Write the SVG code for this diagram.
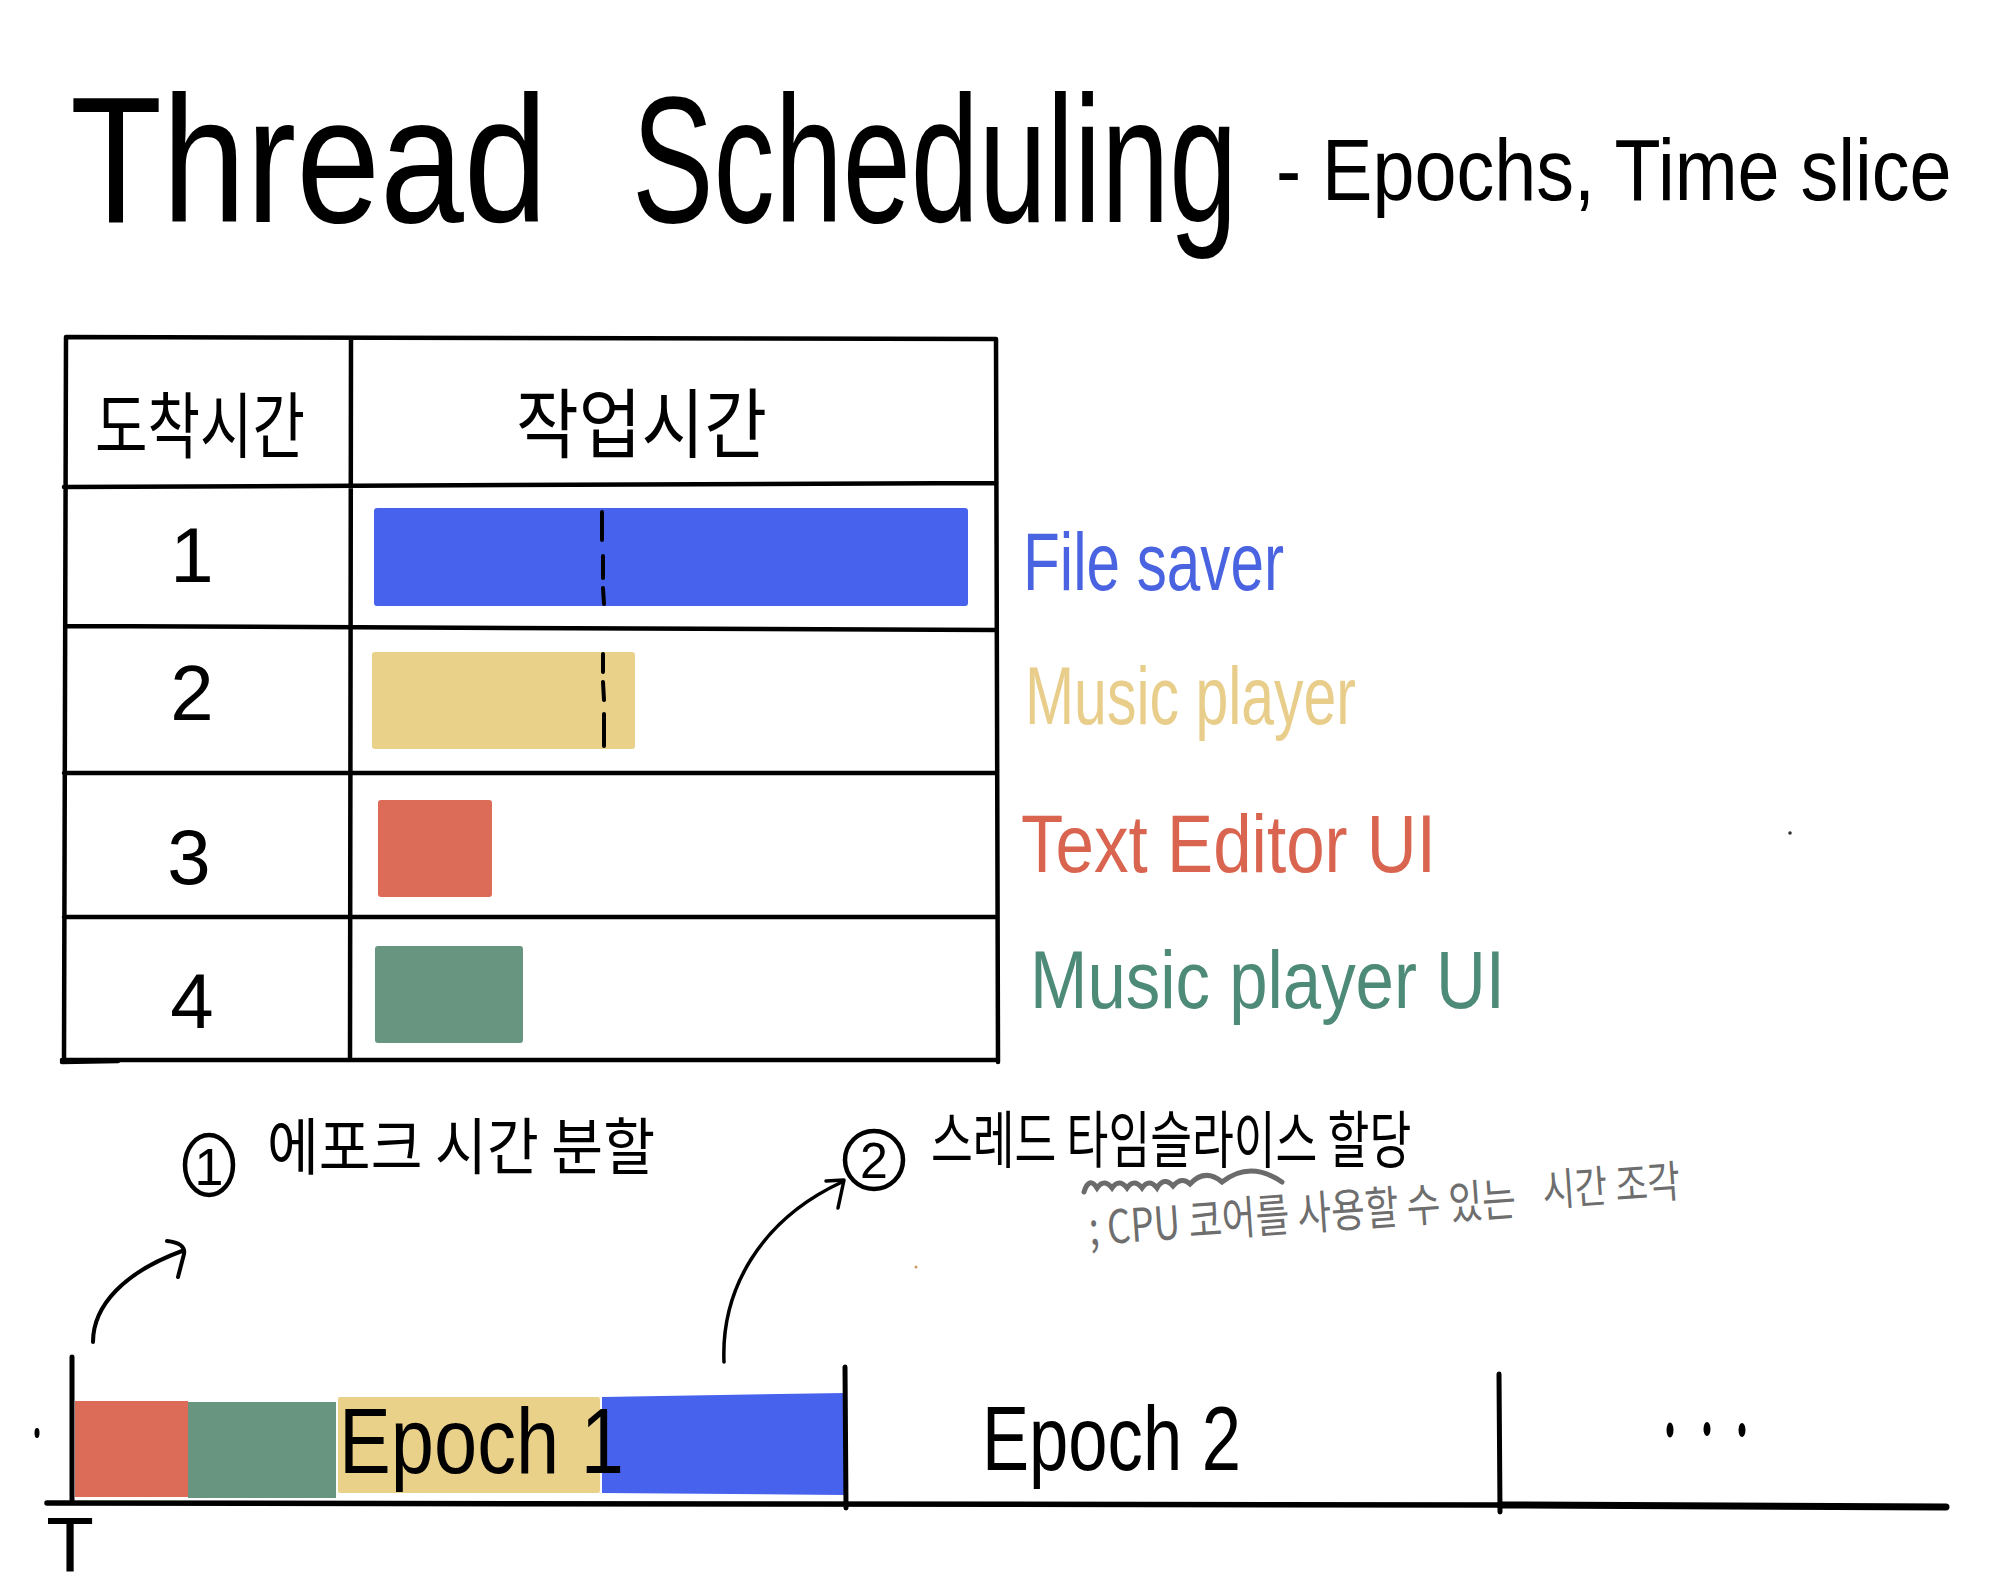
<svg xmlns="http://www.w3.org/2000/svg" width="2000" height="1586" viewBox="0 0 2000 1586">
<style>
.ink{fill:none;stroke:#000;stroke-linecap:round;stroke-linejoin:round}
.grid{fill:none;stroke:#000;stroke-width:4.5;stroke-linecap:round}
.en{font-family:"Liberation Sans","DejaVu Sans",sans-serif}
.ko{font-family:"Noto Sans CJK KR","Liberation Sans",sans-serif}
.blue{fill:#4763EE}.yellow{fill:#EAD18A}.red{fill:#DC6B58}.green{fill:#67957F}
</style>
<rect width="2000" height="1586" fill="#fff"/>

<g id="title">
<g transform="translate(70 222) scale(0.838 1)"><text class="en" x="0" y="0" font-size="180" textLength="570" lengthAdjust="spacingAndGlyphs">Thread</text></g>
<g transform="translate(632 222) scale(0.68 1)"><text class="en" x="0" y="0" font-size="180" textLength="890" lengthAdjust="spacingAndGlyphs">Scheduling</text></g>
<g transform="translate(1276 200) scale(0.853 1)"><text class="en" x="0" y="0" font-size="88" textLength="792" lengthAdjust="spacingAndGlyphs">- Epochs, Time slice</text></g>
</g>

<g id="table">
<path class="grid" d="M66,337 L996,339 M66,337 L64,1060 M351,339 L350,1060 M996,339 L998,1062 M64,487 L996,483 M66,626 L996,630 M64,773 L996,773 M64,917 L996,917 M62,1060 L998,1060 M62,1062 L118,1061"/>
<text class="ko" x="95" y="452" font-size="72" textLength="210" lengthAdjust="spacingAndGlyphs">도착시간</text>
<text class="ko" x="516" y="452" font-size="76" textLength="251" lengthAdjust="spacingAndGlyphs">작업시간</text>
<text class="en" x="192" y="582" font-size="78" text-anchor="middle">1</text>
<text class="en" x="192" y="720" font-size="78" text-anchor="middle">2</text>
<text class="en" x="189" y="884" font-size="78" text-anchor="middle">3</text>
<text class="en" x="192" y="1028" font-size="78" text-anchor="middle">4</text>
</g>

<g id="task-file-saver">
<rect class="blue" x="374" y="508" width="594" height="98" rx="3"/>
<path class="ink" stroke-width="4" d="M602,512 L602,540 M603,556 L603,578 M603,588 L604,604"/>
<text class="en" x="1023" y="590" font-size="82" fill="#4A63E0" textLength="261" lengthAdjust="spacingAndGlyphs">File saver</text>
</g>
<g id="task-music-player">
<rect class="yellow" x="372" y="652" width="263" height="97" rx="3"/>
<path class="ink" stroke-width="4" d="M603,654 L603,672 M603,682 L604,700 M604,714 L604,746"/>
<text class="en" x="1025" y="724" font-size="82" fill="#E8CE8A" textLength="331" lengthAdjust="spacingAndGlyphs">Music player</text>
</g>
<g id="task-text-editor-ui">
<rect class="red" x="378" y="800" width="114" height="97" rx="3"/>
<text class="en" x="1021" y="872" font-size="82" fill="#D9644F" textLength="415" lengthAdjust="spacingAndGlyphs">Text Editor UI</text>
</g>
<g id="task-music-player-ui">
<rect class="green" x="375" y="946" width="148" height="97" rx="3"/>
<text class="en" x="1030" y="1008" font-size="82" fill="#4E8A78" textLength="475" lengthAdjust="spacingAndGlyphs">Music player UI</text>
</g>

<g id="step1">
<ellipse cx="209" cy="1165" rx="24" ry="30" class="ink" stroke-width="4.5"/>
<text class="en" x="209" y="1185" font-size="52" text-anchor="middle">1</text>
<text class="ko" x="267" y="1170" font-size="62" textLength="388" lengthAdjust="spacingAndGlyphs">에포크 시간 분할</text>
</g>

<g id="step2">
<circle cx="874" cy="1160" r="29" class="ink" stroke-width="4.5"/>
<text class="en" x="874" y="1178" font-size="50" text-anchor="middle">2</text>
<g transform="translate(931 1163) scale(0.7 1)"><text class="ko" x="0" y="0" font-size="62" textLength="686" lengthAdjust="spacingAndGlyphs">스레드 타임슬라이스 할당</text></g>
<path fill="none" stroke="#6B6B6B" stroke-width="5" stroke-linecap="round" d="M1084,1192 Q1089,1176 1097,1188 Q1104,1178 1112,1188 Q1119,1178 1127,1188 Q1134,1178 1142,1188 Q1149,1178 1157,1188 Q1164,1176 1173,1186 Q1182,1176 1190,1184 Q1205,1168 1222,1182 Q1250,1160 1282,1182"/>
<g transform="rotate(-4 1090 1245)" fill="#6E6E6E">
<text class="ko" x="1090" y="1245" font-size="46" textLength="428" lengthAdjust="spacingAndGlyphs">; CPU 코어를 사용할 수 있는</text>
<text class="ko" x="1545" y="1238" font-size="44" textLength="138" lengthAdjust="spacingAndGlyphs">시간 조각</text>
</g>
</g>

<g id="timeline">
<rect class="red" x="75" y="1401" width="113" height="96"/>
<rect class="green" x="188" y="1402" width="148" height="96"/>
<rect class="yellow" x="338" y="1397" width="262" height="96" rx="2"/>
<path class="blue" d="M602,1397 L844,1393 L844,1495 L602,1493 Z"/>
<text class="en" x="339" y="1473" font-size="92" textLength="285" lengthAdjust="spacingAndGlyphs">Epoch 1</text>
<text class="en" x="982" y="1470" font-size="90" textLength="259" lengthAdjust="spacingAndGlyphs">Epoch 2</text>
<ellipse cx="1670" cy="1430" rx="3.5" ry="7.5"/>
<ellipse cx="1707" cy="1429" rx="3.5" ry="7"/>
<ellipse cx="1742" cy="1430" rx="3.5" ry="7"/>
<text class="en" x="70" y="1572" font-size="78" text-anchor="middle">T</text>
<path class="ink" stroke-width="5" d="M72,1357 L72,1500 M845,1367 L846,1508 M1499,1374 L1500,1512"/>
<path fill="none" stroke="#000" stroke-width="5.5" stroke-linecap="round" d="M47,1503 L1500,1505"/>
<path fill="none" stroke="#000" stroke-width="7" stroke-linecap="round" d="M1500,1505 L1946,1507"/>
<ellipse cx="37" cy="1433" rx="2.5" ry="5"/>
</g>

<g id="connectors">
<path class="ink" stroke-width="4" d="M93,1342 C93,1305 125,1272 182,1251"/>
<path class="ink" stroke-width="4" d="M167,1241 Q186,1243 184,1254 L178,1277"/>
<path class="ink" stroke-width="3.5" d="M724,1362 C721,1290 760,1220 842,1182"/>
<path class="ink" stroke-width="3.5" d="M826,1181 L844,1180 L838,1208"/>
</g>

<g id="specks">
<circle cx="1790" cy="833" r="1.8" fill="#333"/>
<circle cx="916" cy="1267" r="1.5" fill="#c96"/>
</g>
</svg>
